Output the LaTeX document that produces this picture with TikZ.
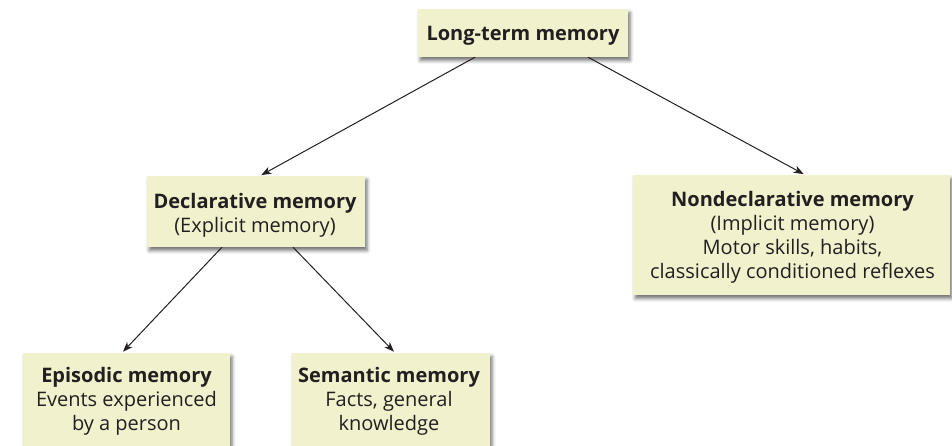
\documentclass[tikz,border=0pt]{standalone}
\usepackage{fontspec}
\setmainfont{Open Sans}
\usetikzlibrary{arrows.meta,shadows.blur}
\definecolor{boxfill}{RGB}{241,241,205}
\definecolor{ink}{RGB}{35,31,32}
\tikzset{
  membox/.style={fill=boxfill, draw=none, inner sep=0pt,
    blur shadow={shadow xshift=2pt, shadow yshift=-3.5pt, shadow blur radius=3.5pt, shadow opacity=55}},
  memtext/.style={align=center, text=ink, inner sep=0pt, anchor=base,
    font=\fontsize{20}{24}\selectfont},
  arr/.style={-{Stealth[length=10pt,width=7.5pt,inset=3pt]}, line width=1pt, draw=ink, shorten >=1.5pt}
}
\begin{document}
\begin{tikzpicture}[x=1pt,y=-1pt]
\useasboundingbox (0,0) rectangle (952,445);
% boxes
\node[membox, minimum width=210pt, minimum height=48pt] (lt) at (523,33) {};
\node[membox, minimum width=218pt, minimum height=71pt] (decl) at (256,211.5) {};
\node[membox, minimum width=317pt, minimum height=120pt] (nond) at (791.5,235) {};
\node[membox, minimum width=207pt, minimum height=120pt] (epi) at (126.5,413) {};
\node[membox, minimum width=198pt, minimum height=120pt] (sem) at (391,413) {};
% texts (anchor=base is the baseline of the last line)
\node[memtext] (tlt) at (523,40) {\textbf{Long-term memory}};
\node[memtext] (tdecl) at (255,232) {\textbf{Declarative memory}\\(Explicit memory)};
\node[memtext] (tnond) at (792.5,278) {\textbf{Nondeclarative memory}\\(Implicit memory)\\Motor skills, habits,\\classically conditioned reflexes};
\node[memtext] (tepi) at (126.5,430) {\textbf{Episodic memory}\\Events experienced\\by a person};
\node[memtext] (tsem) at (389,430) {\textbf{Semantic memory}\\Facts, general\\knowledge};
% connectors
\draw[arr] ([xshift=-48pt]lt.south) -- ([xshift=4pt]decl.north);
\draw[arr] ([xshift=65pt]lt.south) -- ([xshift=13.5pt]nond.north);
\draw[arr] ([xshift=-34pt]decl.south) -- ([xshift=-4.5pt]epi.north);
\draw[arr] ([xshift=37pt]decl.south) -- ([xshift=4pt]sem.north);
\end{tikzpicture}
\end{document}
